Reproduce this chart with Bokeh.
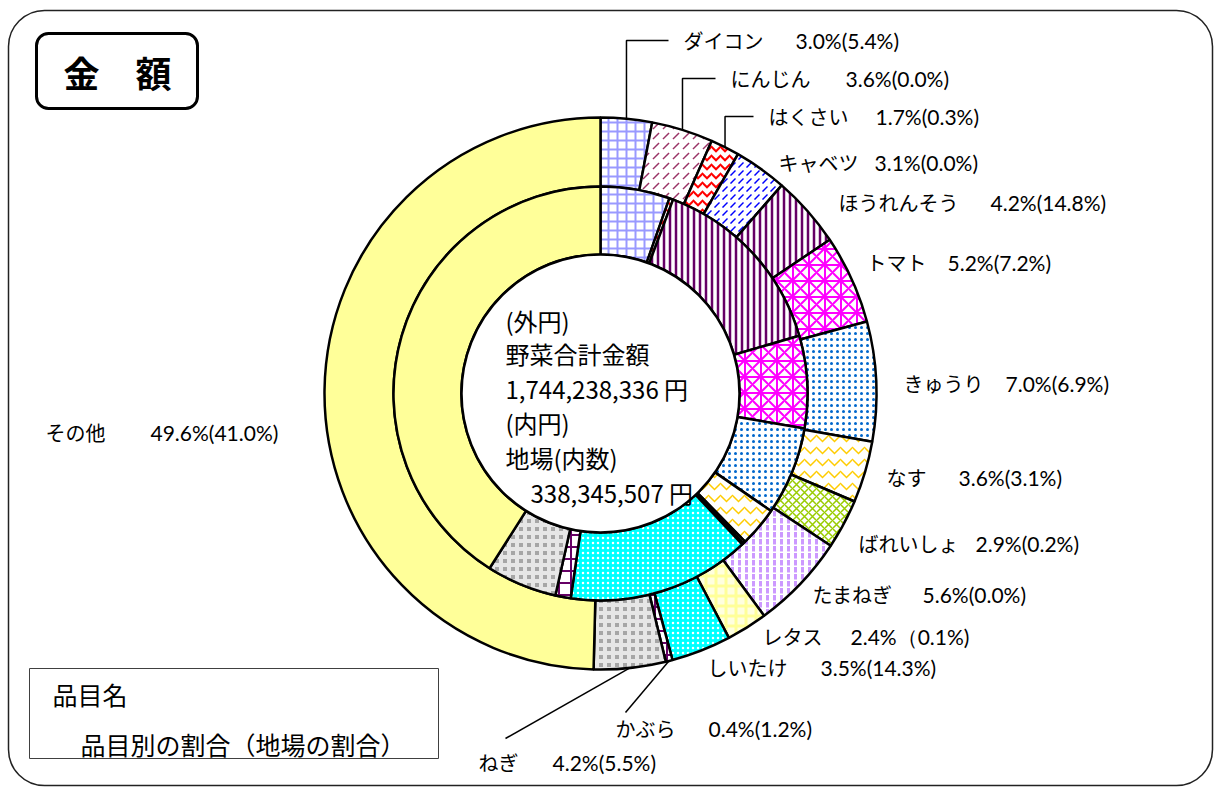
import math
from bokeh.plotting import figure
from bokeh.models import ColumnDataSource, BoxAnnotation, Range1d
from bokeh.core.properties import value
from bokeh.embed import file_html
from bokeh.resources import INLINE

W, H = 1221, 787

# ---- data ----
items = ["ダイコン", "にんじん", "はくさい", "キャベツ", "ほうれんそう", "トマト", "きゅうり",
         "なす", "ばれいしょ", "たまねぎ", "レタス", "しいたけ", "かぶら", "ねぎ", "その他"]
share = [3.0, 3.6, 1.7, 3.1, 4.2, 5.2, 7.0, 3.6, 2.9, 5.6, 2.4, 3.5, 0.4, 4.2, 49.6]
local_share = [5.4, 0.0, 0.3, 0.0, 14.8, 7.2, 6.9, 3.1, 0.2, 0.0, 0.1, 14.3, 1.2, 5.5, 41.0]
total_amount = "1,744,238,336"
local_amount = "338,345,507"

# ---- styles ----
fills = ["white", "white", "white", "white", "white", "white", "white",
         "white", "white", "white", "#FFFFE0", "#00FFFF", "white", "#A6A6A6", "#FFFF99"]
hatches = ["+", ",", "v", ",", "|", "*", ".", "v", "x", ":", "+", ".", "+", "+", " "]
hcolors = ["#9999FF", "#993366", "#FF0000", "#0000FF", "#660066", "#FF00FF", "#0066CC",
           "#FFCC00", "#99CC00", "#CC99FF", "#FFFF99", "white", "#660066", "#E6E6E6", "#FFFF99"]
hscales = [9, 10, 9, 8, 6, 16, 6, 12, 8, 7, 10, 5, 12, 8, 10]
hweights = [2, 1.5, 2, 1.5, 2.5, 2, 2.5, 1.5, 1.5, 3, 3, 1.5, 2, 4, 1]

cx, cy = 600, H - 393
r_hole, r_mid, r_out = 139, 207, 276

p = figure(width=W, height=H, output_backend="svg", toolbar_location=None,
           x_range=Range1d(0, W), y_range=Range1d(0, H),
           x_axis_type=None, y_axis_type=None, min_border=0)
p.grid.visible = False
p.outline_line_color = None
p.background_fill_color = "white"
p.border_fill_color = "white"


def ring(values, r0, r1):
    tot = sum(values)
    cum = 0.0
    d = dict(start=[], end=[], fill=[], hp=[], hc=[], hs=[], hw=[])
    mids = []
    for i, v in enumerate(values):
        a0 = math.pi / 2 - 2 * math.pi * cum / tot
        a1 = math.pi / 2 - 2 * math.pi * (cum + v) / tot
        mids.append((a0 + a1) / 2)
        cum += v
        if v <= 0:
            continue
        d["start"].append(a0)
        d["end"].append(a1)
        d["fill"].append(fills[i])
        d["hp"].append(hatches[i])
        d["hc"].append(hcolors[i])
        d["hs"].append(hscales[i])
        d["hw"].append(hweights[i])
    src = ColumnDataSource(d)
    p.annular_wedge(x=cx, y=cy, inner_radius=r0, outer_radius=r1,
                    start_angle="start", end_angle="end", direction="clock",
                    fill_color="fill", hatch_pattern="hp", hatch_color="hc",
                    hatch_scale="hs", hatch_weight="hw",
                    line_color="black", line_width=2.5, source=src)
    return mids


outer_mids = ring(share, r_mid, r_out)
ring(local_share, r_hole, r_mid)
p.circle(x=cx, y=cy, radius=r_hole, fill_color="white", line_color="black", line_width=2.5)

# ---- labels ----
pct_text = [f"{a:.1f}%({b:.1f}%)" for a, b in zip(share, local_share)]
pct_text[items.index("レタス")] = pct_text[items.index("レタス")].replace("(", "（", 1)

name_pos = [(683, 40, 795), (730, 78, 845), (768, 116, 875), (778, 162, 874),
            (838, 202, 990), (866, 262, 947), (903, 383, 1005), (886, 477, 958),
            (858, 543, 975), (812, 594, 922), (762, 636, 850), (707, 667, 820),
            (615, 728, 708), (478, 762, 552), (45, 432, 150)]

jp = value("Noto Sans CJK JP")
num = value("Lato")
p.text(x=[q[0] for q in name_pos], y=[H - q[1] for q in name_pos], text=items,
       text_font=jp, text_font_size="20px", text_baseline="middle", text_align="left",
       text_color="black")
p.text(x=[q[2] for q in name_pos], y=[H - q[1] for q in name_pos], text=pct_text,
       text_font=num, text_font_size="21px", text_baseline="middle", text_align="left",
       text_color="black")

# leader lines (elbow) for top three
for i in range(3):
    a = outer_mids[i]
    x0 = cx + r_out * math.cos(a)
    y0 = cy + r_out * math.sin(a)
    lx, ly, _ = name_pos[i]
    p.line(x=[x0, x0, lx - 15], y=[y0, H - ly, H - ly], line_color="black", line_width=1.5)

# leader lines (straight) for かぶら and ねぎ
for name, end in (("かぶら", (625, 712)), ("ねぎ", (505, 738))):
    a = outer_mids[items.index(name)]
    x0 = cx + r_out * math.cos(a)
    y0 = cy + r_out * math.sin(a)
    p.line(x=[x0, end[0]], y=[y0, H - end[1]], line_color="black", line_width=1.5)

# center text
center_lines = ["(外円)", "野菜合計金額", f"{total_amount} 円", "(内円)", "地場(内数)", f"{local_amount} 円"]
center_x = [505, 505, 505, 505, 505, 530]
center_y = [320, 353, 388, 422, 457, 492]
p.text(x=center_x, y=[H - y for y in center_y], text=center_lines, text_font=jp,
       text_font_size="24px", text_baseline="middle", text_align="left", text_color="black")

# frame
p.add_layout(BoxAnnotation(left=8, right=1212, top=H - 10, bottom=H - 785, fill_alpha=0,
                           line_color="#222222", line_alpha=1, line_width=1.5, border_radius=36))
# title box
p.add_layout(BoxAnnotation(left=36, right=197, top=H - 33, bottom=H - 108, fill_alpha=0,
                           line_color="black", line_alpha=1, line_width=3, border_radius=12))
p.text(x=[117], y=[H - 71], text=["金　額"], text_font=jp, text_font_size="36px",
       text_font_style="bold", text_baseline="middle", text_align="center", text_color="black")

# legend box
p.add_layout(BoxAnnotation(left=29, right=438, top=H - 668, bottom=H - 758, fill_alpha=0,
                           line_color="#404040", line_alpha=1, line_width=1))
p.text(x=[52, 80], y=[H - 693, H - 743], text=["品目名", "品目別の割合（地場の割合）"],
       text_font=jp, text_font_size="25px", text_baseline="middle", text_align="left",
       text_color="black")

open("out.html", "w").write(file_html(p, INLINE))
